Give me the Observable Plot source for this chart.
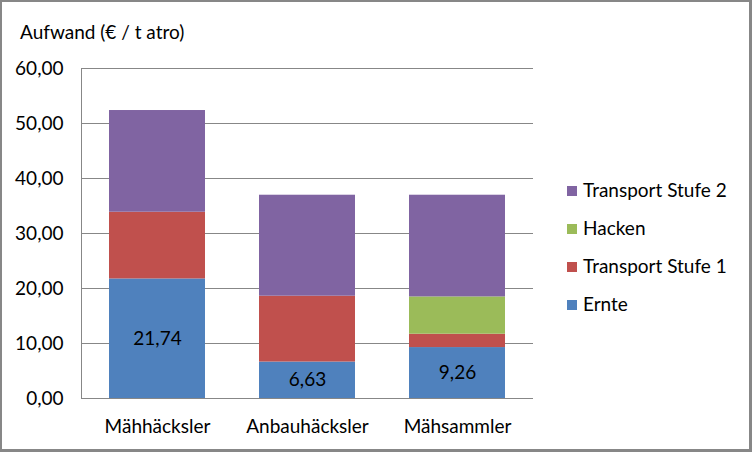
<!DOCTYPE html>
<html>
<head>
<meta charset="utf-8">
<script src="https://cdn.jsdelivr.net/npm/d3@7"></script>
<script src="https://cdn.jsdelivr.net/npm/@observablehq/plot@0.6"></script>
<style>
  html, body { margin: 0; padding: 0; background: #fff; }
  #wrap { position: relative; width: 752px; height: 452px; overflow: hidden; font-family: Lato, "Open Sans", sans-serif; color: #000; }
  #chart { position: absolute; left: 0; top: 0; }
  #title { position: absolute; left: 20px; top: 20px; font-size: 19px; line-height: 24px; white-space: nowrap; }
  #legend { position: absolute; left: 567px; top: 178px; font-size: 19px; }
  .item { position: absolute; left: 0; white-space: nowrap; height: 24px; line-height: 24px; }
  .sw { position: absolute; left: 0; top: 8px; width: 10px; height: 10px; }
  .lab { position: absolute; left: 16px; top: 0; }
  #border { position: absolute; left: 0; top: 0; width: 752px; height: 452px; box-sizing: border-box; border: 2px solid #878787; border-right-width: 3px; border-bottom-width: 3px; pointer-events: none; }
</style>
</head>
<body>
<div id="wrap">
  <div id="chart"></div>
  <div id="title">Aufwand (€ / t atro)</div>
  <div id="legend"></div>
  <div id="border"></div>
</div>
<script>
const categories = ["Mähhäcksler", "Anbauhäcksler", "Mähsammler"];
const seriesNames = ["Ernte", "Transport Stufe 1", "Hacken", "Transport Stufe 2"];
const ernte = [21.74, 6.63, 9.26];
const transportStufe1 = [12.13, 11.97, 2.43];
const hacken = [0, 0, 6.78];
const transportStufe2 = [18.49, 18.36, 18.49];
const yTicks = [0, 10, 20, 30, 40, 50, 60];
const colors = ["#4F81BD", "#C0504D", "#9BBB59", "#8064A2"];
const legendOrder = ["Transport Stufe 2", "Hacken", "Transport Stufe 1", "Ernte"];

const seriesValues = [ernte, transportStufe1, hacken, transportStufe2];
const rows = [];
categories.forEach((c, i) => {
  seriesNames.forEach((s, j) => {
    rows.push({category: c, series: s, value: seriesValues[j][i]});
  });
});
const fmt = v => v.toFixed(2).replace(".", ",");

const plot = Plot.plot({
  width: 752,
  height: 452,
  marginLeft: 81,
  marginRight: 219,
  marginTop: 68,
  marginBottom: 54,
  style: {fontFamily: "Lato, 'Open Sans', sans-serif", fontSize: "19px", color: "#000", background: "transparent"},
  x: {domain: categories, paddingInner: 0.36, paddingOuter: 0.18, label: null},
  y: {domain: [0, 60], label: null},
  color: {domain: seriesNames, range: colors},
  marks: [
    Plot.ruleY(yTicks, {stroke: "#878787", strokeWidth: 1}),
    Plot.frame({anchor: "left", stroke: "#878787"}),
    Plot.barY(rows, Plot.stackY({x: "category", y: "value", z: "series", fill: "series", order: seriesNames})),
    Plot.text(rows, Plot.stackY({
      x: "category", y: "value", z: "series", order: seriesNames,
      text: d => d.series === "Ernte" ? fmt(d.value) : null,
      fill: "#000", fontSize: 19
    })),
    Plot.axisY({ticks: yTicks, tickFormat: fmt, tickSize: 0, tickPadding: 18, label: null}),
    Plot.axisX({tickSize: 0, tickPadding: 21, label: null})
  ]
});
document.getElementById("chart").appendChild(plot);

const legend = document.getElementById("legend");
legendOrder.forEach((s, k) => {
  const item = document.createElement("div");
  item.className = "item";
  item.style.top = (k * 38) + "px";
  const sw = document.createElement("div");
  sw.className = "sw";
  sw.style.background = colors[seriesNames.indexOf(s)];
  const lab = document.createElement("div");
  lab.className = "lab";
  lab.textContent = s;
  item.appendChild(sw);
  item.appendChild(lab);
  legend.appendChild(item);
});
</script>
</body>
</html>
